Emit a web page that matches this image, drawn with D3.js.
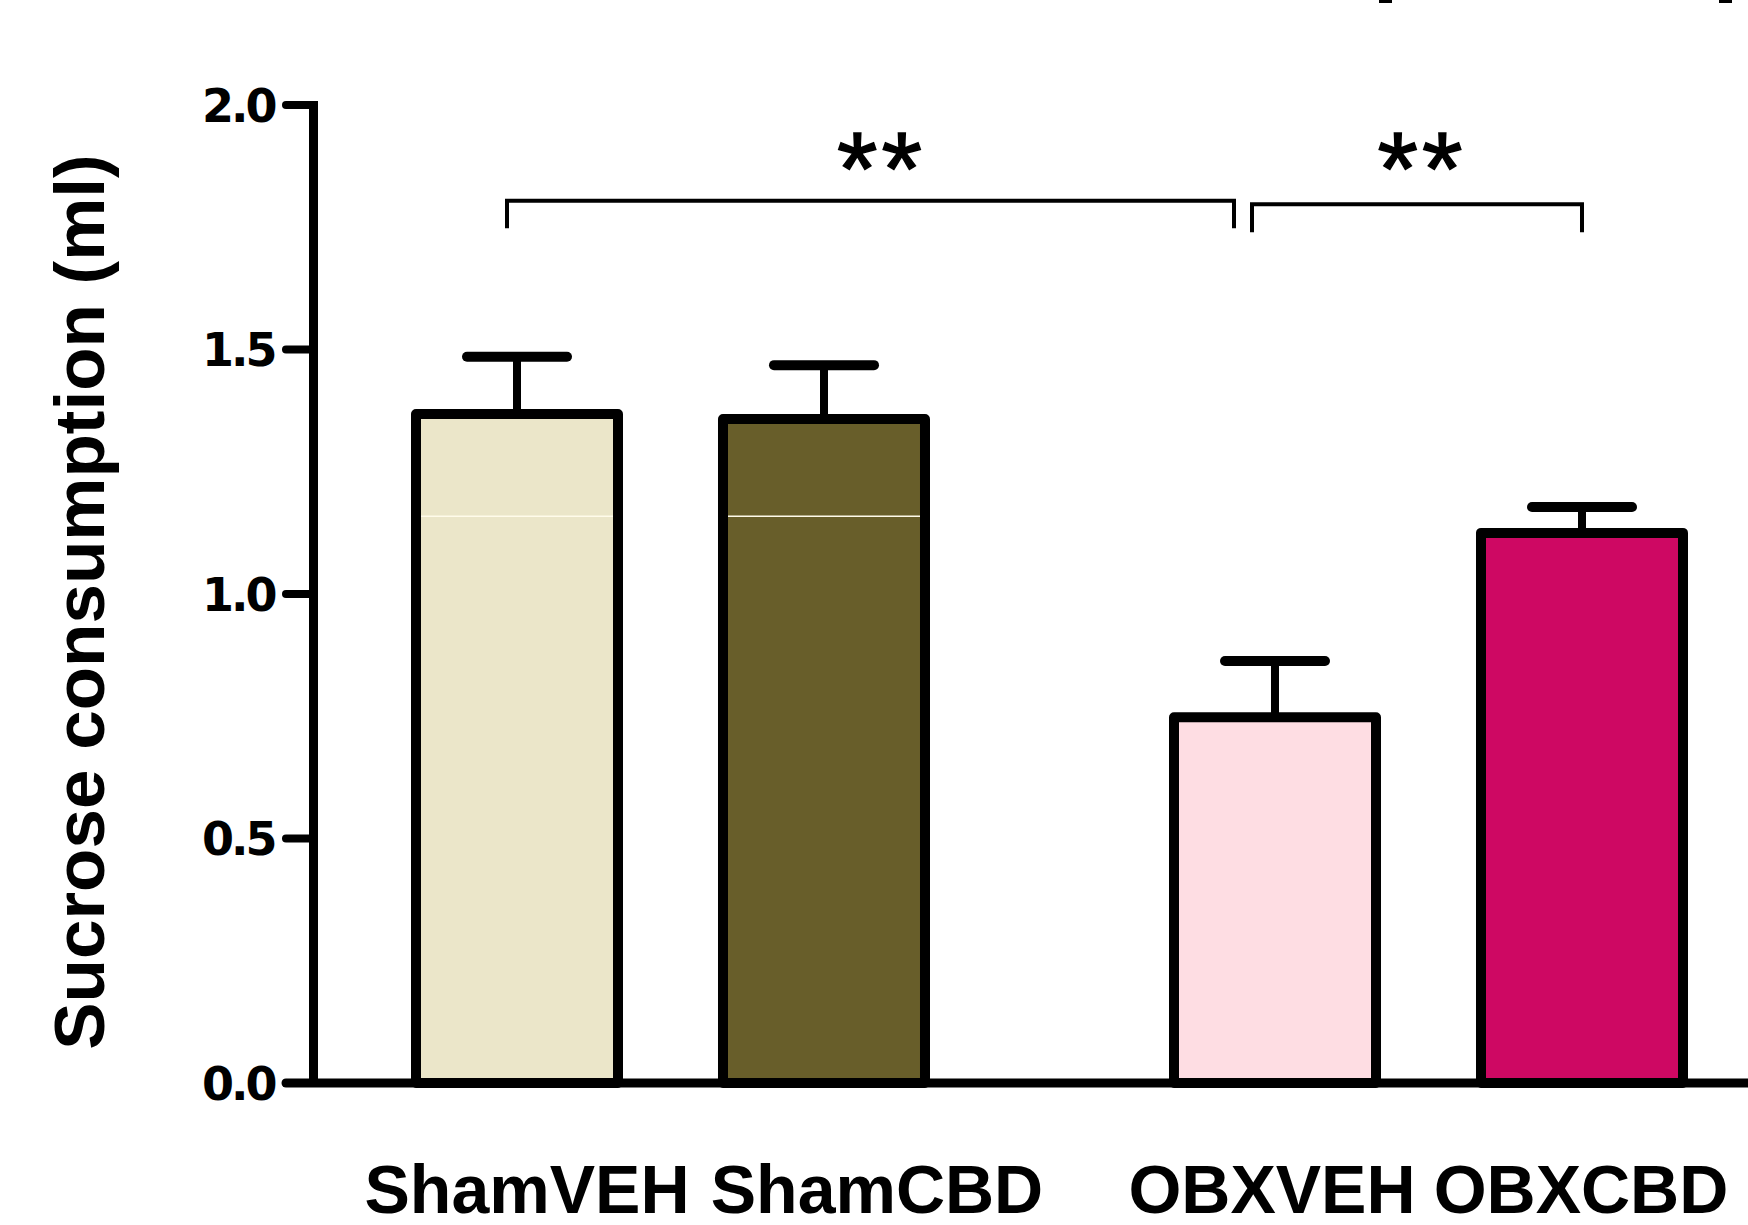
<!DOCTYPE html>
<meta charset="utf-8">
<script src="https://d3js.org/d3.v7.js"></script>
<style>
  body { margin: 0; background: #fff; }
</style>
<div id="chart"></div>
<script>

// data
const categories = ["ShamVEH", "ShamCBD", "OBXVEH", "OBXCBD"];
const groups     = ["Sham", "Sham", "OBX", "OBX"];
const treatments = ["VEH", "CBD", "VEH", "CBD"];
const means      = [1.368, 1.358, 0.748, 1.125];
const sems       = [0.117, 0.110, 0.115, 0.053];
const yTicks     = [0, 0.5, 1.0, 1.5, 2.0];
const brackets   = [
  {from: "ShamVEH", to: "OBXVEH", y: 1.804, leg: 0.056, label: "**"},
  {from: "OBXVEH",  to: "OBXCBD", y: 1.797, leg: 0.057, label: "**"}
];

const width = 1748, height = 1225;

const svg = d3.select("#chart")
  .append("svg")
    .attr("width", width)
    .attr("height", height);

const y = d3.scaleLinear().domain([0, 2]).range([1083, 105]);

const xGroup = d3.scaleBand()
  .domain(["Sham", "OBX"])
  .range([416, 1683])
  .paddingInner(0.3285);

const xInner = d3.scaleBand()
  .domain(["VEH", "CBD"])
  .range([0, xGroup.bandwidth()])
  .paddingInner(0.342);

const color = d3.scaleOrdinal()
  .domain(categories)
  .range(["#ebe6c9", "#685e2a", "#fedde3", "#ce0863"]);

const bw = xInner.bandwidth();
const barX = i => xGroup(groups[i]) + xInner(treatments[i]);
const barC = i => barX(i) + bw / 2;
const idx = name => categories.indexOf(name);

// error bars (drawn first, bar outline covers the stem)
const err = svg.append("g");
categories.forEach(function(c, i) {
  err.append("line")
    .attr("x1", barC(i)).attr("x2", barC(i))
    .attr("y1", y(means[i])).attr("y2", y(means[i] + sems[i]))
    .attr("stroke", "#000").attr("stroke-width", 8);
  err.append("line")
    .attr("x1", barC(i) - 50).attr("x2", barC(i) + 50)
    .attr("y1", y(means[i] + sems[i])).attr("y2", y(means[i] + sems[i]))
    .attr("stroke", "#000").attr("stroke-width", 10)
    .attr("stroke-linecap", "round");
});

// bars
svg.append("g")
  .selectAll("rect")
  .data(categories)
  .join("rect")
    .attr("x", (d, i) => barX(i))
    .attr("y", (d, i) => y(means[i]))
    .attr("width", bw)
    .attr("height", (d, i) => y(0) - y(means[i]))
    .attr("fill", d => color(d))
    .attr("stroke", "#000")
    .attr("stroke-width", 10)
    .attr("stroke-linejoin", "round");

// thin light streak visible inside the two Sham bars
svg.append("g")
  .selectAll("line")
  .data([0, 1])
  .join("line")
    .attr("x1", i => barX(i) + 5)
    .attr("x2", i => barX(i) + bw - 5)
    .attr("y1", y(1.159)).attr("y2", y(1.159))
    .attr("stroke", "#fffbea")
    .attr("stroke-width", 1.5);

// y axis
const yAxis = svg.append("g");
yAxis.append("line")
  .attr("x1", 313.5).attr("x2", 313.5)
  .attr("y1", y(2) - 4).attr("y2", y(0))
  .attr("stroke", "#000").attr("stroke-width", 9);
yAxis.selectAll(".tick")
  .data(yTicks)
  .join("line")
    .attr("x1", 286).attr("x2", 313)
    .attr("y1", d => y(d)).attr("y2", d => y(d))
    .attr("stroke", "#000").attr("stroke-width", 8)
    .attr("stroke-linecap", "round");
yAxis.selectAll("text")
  .data(yTicks)
  .join("text")
    .attr("x", 274.5)
    .attr("y", d => y(d))
    .attr("dy", "0.36em")
    .attr("text-anchor", "end")
    .style("font-family", "DejaVu Sans")
    .style("font-weight", "bold")
    .style("font-size", "46px")
    .style("letter-spacing", "-3px")
    .text(d3.format(".1f"));

// x axis baseline
svg.append("line")
  .attr("x1", 286).attr("x2", width)
  .attr("y1", y(0)).attr("y2", y(0))
  .attr("stroke", "#000").attr("stroke-width", 9)
  .attr("stroke-linecap", "round");

// category labels
const labelShift = [10, 53, -3, -1];
svg.append("g")
  .selectAll("text")
  .data(categories)
  .join("text")
    .attr("x", (d, i) => barC(i) + labelShift[i])
    .attr("y", 1213)
    .attr("text-anchor", "middle")
    .style("font-family", "Liberation Sans, Arial, sans-serif")
    .style("font-weight", "bold")
    .style("font-size", "68px")
    .text(d => d);

// y axis title
svg.append("text")
  .attr("transform", "translate(104,602) rotate(-90)")
  .attr("text-anchor", "middle")
  .style("font-family", "Liberation Sans, Arial, sans-serif")
  .style("font-weight", "bold")
  .style("font-size", "71px")
  .text("Sucrose consumption (ml)");

// significance brackets
const nudge = [[-10, -41], [-23, 0]];
const br = svg.append("g");
brackets.forEach(function(b, k) {
  const x1 = barC(idx(b.from)) + nudge[k][0];
  const x2 = barC(idx(b.to)) + nudge[k][1];
  br.append("path")
    .attr("d", d3.line()([
      [x1, y(b.y - b.leg)], [x1, y(b.y)], [x2, y(b.y)], [x2, y(b.y - b.leg)]
    ]))
    .attr("fill", "none")
    .attr("stroke", "#000")
    .attr("stroke-width", 4);
  br.append("text")
    .attr("x", (x1 + x2) / 2 + (k === 0 ? 11 : 5))
    .attr("y", 205)
    .attr("text-anchor", "middle")
    .style("font-family", "Liberation Sans, Arial, sans-serif")
    .style("font-size", "104px")
    .style("letter-spacing", "4px")
    .attr("stroke", "#000")
    .attr("stroke-width", 1.5)
    .text(b.label);
});

// bits of a neighbouring panel cut off at the top edge
svg.append("g")
  .selectAll("rect")
  .data([1379, 1719])
  .join("rect")
    .attr("x", d => d).attr("y", 0)
    .attr("width", 13).attr("height", 3)
    .attr("fill", "#000");

</script>
